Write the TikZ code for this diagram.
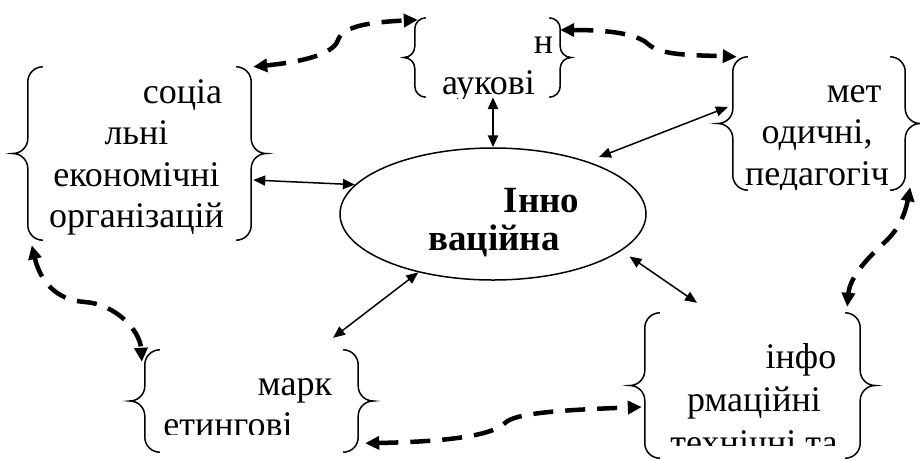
\documentclass[tikz,border=0pt]{standalone}
\usepackage{fontspec}
\setmainfont{Liberation Serif}
\usetikzlibrary{arrows.meta,shapes.geometric,calc}

\newcommand{\dbrace}[2][15]{%
  \draw[brc] let \p1=(#2.north west), \p2=(#2.south east), \p3=(#2.west) in
    (\x1+#1pt,\y1) arc[start angle=90,end angle=180,radius=#1pt] -- (\x1,\y3+#1pt)
    arc[start angle=0,end angle=-90,radius=#1pt] arc[start angle=90,end angle=0,radius=#1pt]
    -- (\x1,\y2+#1pt) arc[start angle=180,end angle=270,radius=#1pt]
    (\x2-#1pt,\y1) arc[start angle=90,end angle=0,radius=#1pt] -- (\x2,\y3+#1pt)
    arc[start angle=180,end angle=270,radius=#1pt] arc[start angle=90,end angle=180,radius=#1pt]
    -- (\x2,\y2+#1pt) arc[start angle=0,end angle=-90,radius=#1pt];}

\begin{document}
\begin{tikzpicture}[x=1pt, y=-1pt,
            box/.style={rectangle, inner sep=0pt},
            brc/.style={line width=1.5pt},
            txt/.style={inner sep=0pt, anchor=base, align=center, font=\fontsize{36}{41.5}\selectfont},
            con/.style={line width=1.5pt, {Triangle[length=12pt,width=10pt]}-{Triangle[length=12pt,width=10pt]}},
            dcon/.style={line width=4.5pt, dash pattern=on 20pt off 12pt, {Triangle[length=14pt,width=13pt]}-{Triangle[length=14pt,width=13pt]}}
        ]
            \useasboundingbox (0,0) rectangle (920,459);
            % boxes
            \node(socnode) at (139.5,153.5) [box, minimum width=223pt, minimum height=173pt] {};
            \node(scinode) at (487.5,57.5) [box, minimum width=145pt, minimum height=79pt] {};
            \node(metnode) at (819,123.5) [box, minimum width=172pt, minimum height=133pt] {};
            \node(marknode) at (251.5,401) [box, minimum width=213pt, minimum height=102pt] {};
            \node(infonode) at (752.5,385.5) [box, minimum width=215pt, minimum height=145pt] {};
            \node(corenode) at (493,214) [ellipse, draw, line width=1.5pt, minimum width=306pt, minimum height=132pt] {};
            \dbrace{socnode}
            \dbrace[11]{scinode}
            \dbrace{metnode}
            \dbrace{marknode}
            \dbrace{infonode}
            % texts (base = last line)
            \begin{scope}
                \clip (28,67) rectangle (251,238);
                \node(soctext) at (136.5,227.5) [txt] {\hspace*{92pt}соціа\\льні\\економічні\\організацій};
            \end{scope}
            \begin{scope}
                \clip (415,18) rectangle (560,98);
                \node(scitext) at (488.5,94.5) [txt] {\hspace*{110pt}н\\аукові};
            \end{scope}
            \begin{scope}
                \clip (733,57) rectangle (905,189);
                \node(mettext) at (817,185) [txt] {\hspace*{74pt}мет\\одичні,\\педагогіч};
            \end{scope}
            \begin{scope}
                \clip (145,350) rectangle (358,434);
                \node(marktext) at (228,436.5) [txt] {\hspace*{134pt}марк\\етингові};
            \end{scope}
            \begin{scope}
                \clip (645,313) rectangle (860,445);
                \node(infotext) at (754,454) [txt, font=\fontsize{36}{43}\selectfont] {\hspace*{94pt}інфо\\рмаційні\\технічні та};
            \end{scope}
            \node(coretext) at (494,250) [txt, font=\fontsize{37}{38}\selectfont\bfseries] {\hspace*{95pt}Інно\\ваційна};
            % links to the centre
            \draw[con] ([xshift=2pt,yshift=-26.5pt]socnode.east) -- (corenode.168);
            \draw[con, line width=2.5pt] ([xshift=5.5pt]scinode.south) -- (corenode.north);
            \draw[con, shorten <=12pt] (corenode.29) -- ([xshift=-5pt,yshift=16.5pt]metnode.west);
            \draw[con] (corenode.218) -- ([xshift=81.5pt,yshift=12pt]marknode.north);
            \draw[con, shorten <=10pt] (corenode.-16) -- ([xshift=-55.5pt,yshift=10pt]infonode.north);
            % dashed links
            \draw[dcon] ([xshift=2pt]socnode.north east) .. controls (300,62) and (333,55) .. (338,40) .. controls (343,25) and (375,22) .. ([xshift=3pt,yshift=-2pt]scinode.north west);
            \draw[dcon] ([yshift=27.5pt]scinode.east) .. controls (600,30) and (635,32) .. (648,44) .. controls (661,56) and (695,55) .. ([xshift=4pt]metnode.north west);
            \draw[dcon] ([xshift=5pt,yshift=3pt]metnode.south east) .. controls (905,215) and (898,230) .. (885,242) .. controls (872,254) and (850,275) .. ([xshift=-13pt,yshift=6pt]infonode.north east);
            \draw[dcon] ([xshift=4pt,yshift=-5pt]socnode.south west) .. controls (40,280) and (55,300) .. (85,302) .. controls (115,304) and (140,330) .. ([xshift=-3pt,yshift=-12pt]marknode.north west);
            \draw[dcon] ([xshift=7pt,yshift=9pt]marknode.south east) .. controls (430,442) and (490,438) .. (505,423) .. controls (515,413) and (560,410) .. ([xshift=-3pt,yshift=-21.5pt]infonode.west);
        \end{tikzpicture}
\end{document}
